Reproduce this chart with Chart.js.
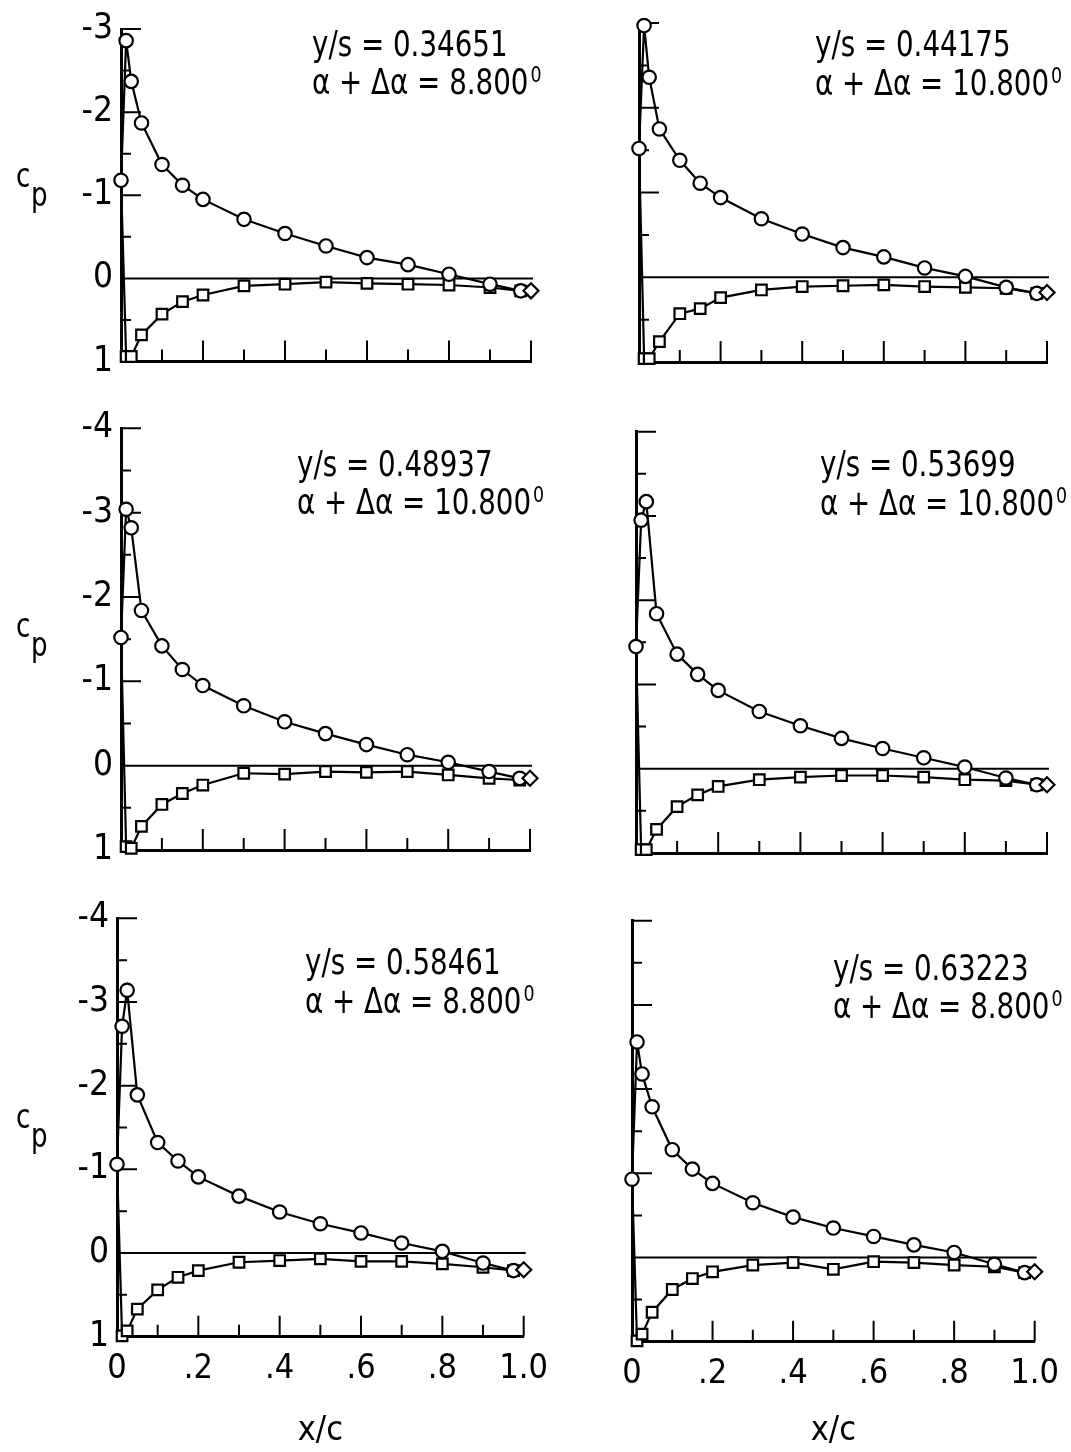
<!DOCTYPE html>
<html>
<head>
<meta charset="utf-8">
<title>Chordwise pressure distributions</title>
<script src="https://cdn.jsdelivr.net/npm/chart.js@4.4.1/dist/chart.umd.min.js"></script>
<style>
  html, body { margin: 0; padding: 0; background: #fff; }
  #page { position: relative; width: 1071px; height: 1452px; overflow: hidden; background: #fff; }
  #page canvas { position: absolute; }
</style>
</head>
<body>
<div id="page"></div>
<script>
// Estaciones x/c (superficie superior e inferior) y borde de salida
const stationsX = [0, 0.0125, 0.025, 0.05, 0.1, 0.15, 0.2, 0.3, 0.4, 0.5, 0.6, 0.7, 0.8, 0.9, 0.975];
const trailingEdgeX = 1.0;

// Etiquetas de cada panel
const spanStations = ['0.34651', '0.44175', '0.48937', '0.53699', '0.58461', '0.63223'];
const angles = ['8.800', '10.800', '10.800', '10.800', '8.800', '8.800'];

// Eje c_p (invertido): valor superior de cada panel
const yTopValues = [-3, -3, -4, -4, -4, -4];
const xTickLabels = ['0', '.2', '.4', '.6', '.8', '1.0'];

// c_p superficie superior (circulos), una por estacion
const upper1 = [-1.18, -2.86, -2.37, -1.87, -1.37, -1.12, -0.95, -0.71, -0.54, -0.39, -0.25, -0.165, -0.05, 0.07, 0.15];
const upper2 = [-1.52, -2.97, -2.36, -1.75, -1.38, -1.11, -0.94, -0.69, -0.51, -0.35, -0.24, -0.11, -0.01, 0.12, 0.19];
const upper3 = [-1.52, -3.04, -2.82, -1.84, -1.42, -1.14, -0.95, -0.71, -0.52, -0.38, -0.25, -0.13, -0.04, 0.07, 0.15];
const upper4 = [-1.45, -2.95, -3.17, -1.84, -1.36, -1.12, -0.93, -0.68, -0.51, -0.36, -0.24, -0.13, -0.02, 0.11, 0.19];
const upper5 = [-1.06, -2.71, -3.14, -1.89, -1.32, -1.10, -0.91, -0.68, -0.49, -0.35, -0.24, -0.12, -0.02, 0.12, 0.21];
const upper6 = [-0.93, -2.56, -2.18, -1.79, -1.28, -1.05, -0.88, -0.65, -0.48, -0.35, -0.25, -0.15, -0.06, 0.08, 0.18];

// c_p superficie inferior (cuadrados), desde x/c = 0.0125
const lower1 = [0.94, 0.94, 0.68, 0.43, 0.28, 0.20, 0.09, 0.07, 0.045, 0.06, 0.07, 0.08, 0.11, 0.15];
const lower2 = [0.96, 0.96, 0.76, 0.43, 0.37, 0.24, 0.15, 0.11, 0.10, 0.09, 0.11, 0.12, 0.13, 0.19];
const lower3 = [0.96, 0.98, 0.72, 0.46, 0.33, 0.23, 0.09, 0.10, 0.07, 0.08, 0.07, 0.11, 0.15, 0.17];
const lower4 = [0.96, 0.96, 0.72, 0.45, 0.31, 0.21, 0.13, 0.10, 0.08, 0.08, 0.10, 0.13, 0.14, 0.19];
const lower5 = [0.99, 0.93, 0.67, 0.44, 0.29, 0.21, 0.11, 0.09, 0.07, 0.10, 0.10, 0.13, 0.17, 0.21];
const lower6 = [0.99, 0.91, 0.65, 0.38, 0.25, 0.17, 0.09, 0.06, 0.14, 0.05, 0.06, 0.09, 0.11, 0.18];

// c_p en el borde de salida (rombo)
const trailingEdge = [0.15, 0.18, 0.15, 0.19, 0.20, 0.17];

const upperSets = [upper1, upper2, upper3, upper4, upper5, upper6];
const lowerSets = [lower1, lower2, lower3, lower4, lower5, lower6];

// Posicion de cada area de grafica en la pagina (px)
const panelRects = [
    { left: 121, right: 531, top: 22.7, bottom: 361.5 },
    { left: 639, right: 1047, top: 23, bottom: 362 },
    { left: 121, right: 530, top: 428.3, bottom: 850 },
    { left: 636, right: 1047, top: 431.7, bottom: 853 },
    { left: 117, right: 526, top: 918.3, bottom: 1336.7 },
    { left: 632, right: 1044, top: 920.7, bottom: 1341.7 }
];
const colX = [0, 560], colW = [560, 511];
const rowY = [0, 395, 885], rowH = [395, 490, 567];

// Posicion de los textos y/s y alfa
const notePos = [
    { x: 312, y1: 56, y2: 94 },
    { x: 815, y1: 56, y2: 95 },
    { x: 297, y1: 476, y2: 514 },
    { x: 820, y1: 476, y2: 515 },
    { x: 305, y1: 974, y2: 1013 },
    { x: 833, y1: 980, y2: 1018 }
];
const cpLabelY = [187, null, 637, null, 1128, null];

const FONT = "'DejaVu Sans Condensed', 'Liberation Sans Narrow', 'DejaVu Sans', sans-serif";
const NOTE_SQUEEZE = 0.88; // letra alta y estrecha como en el original
Chart.defaults.font.family = FONT;
Chart.defaults.color = '#000';

// Texto estrechado horizontalmente, devuelve el ancho ocupado
function squeezedText(ctx, text, x, y) {
    ctx.save();
    ctx.translate(x, y);
    ctx.scale(NOTE_SQUEEZE, 1);
    ctx.fillText(text, 0, 0);
    const w = ctx.measureText(text).width * NOTE_SQUEEZE;
    ctx.restore();
    return w;
}

// Marcas hacia dentro, linea c_p = 0 y textos
const panelDecor = {
    id: 'panelDecor',
    beforeDatasetsDraw(chart, args, opts) {
        const { ctx, chartArea: a, scales: { x, y } } = chart;
        ctx.save();
        ctx.strokeStyle = '#000';
        ctx.lineWidth = 2;
        ctx.beginPath();
        y.ticks.forEach(t => {
            if (t.value === y.max) return;
            const py = y.getPixelForValue(t.value);
            const len = Number.isInteger(t.value) ? 20 : 10;
            ctx.moveTo(a.left, py);
            ctx.lineTo(a.left + len, py);
        });
        x.ticks.forEach(t => {
            if (t.value === x.min) return;
            const px = x.getPixelForValue(t.value);
            const len = Math.round(t.value * 10) % 2 === 0 ? 21 : 12;
            ctx.moveTo(px, a.bottom);
            ctx.lineTo(px, a.bottom - len);
        });
        const y0 = y.getPixelForValue(0);
        ctx.moveTo(a.left, y0);
        ctx.lineTo(x.getPixelForValue(x.max) + 2, y0);
        ctx.stroke();
        ctx.restore();
    },
    afterDraw(chart, args, opts) {
        const ctx = chart.ctx;
        const i = opts.index;
        const p = notePos[i];
        const nx = p.x - opts.ox;
        ctx.save();
        ctx.fillStyle = '#000';
        ctx.textBaseline = 'alphabetic';
        ctx.textAlign = 'left';
        ctx.font = '35px ' + FONT;
        squeezedText(ctx, 'y/s = ' + spanStations[i], nx, p.y1 - opts.oy);
        const w = squeezedText(ctx, 'α + Δα = ' + angles[i], nx, p.y2 - opts.oy);
        ctx.font = '22px ' + FONT;
        squeezedText(ctx, '0', nx + w + 2, p.y2 - opts.oy - 12);

        if (cpLabelY[i] !== null) {
            const cy = cpLabelY[i] - opts.oy;
            ctx.font = '33px ' + FONT;
            squeezedText(ctx, 'c', 16 - opts.ox, cy);
            squeezedText(ctx, 'p', 31 - opts.ox, cy + 19);
        }
        ctx.restore();
    }
};

function buildPanel(i) {
    const col = i % 2, row = Math.floor(i / 2);
    const ox = colX[col], oy = rowY[row], w = colW[col], h = rowH[row];
    const r = panelRects[i];
    const isLeft = col === 0;
    const isBottom = row === 2;

    const canvas = document.createElement('canvas');
    canvas.width = w;
    canvas.height = h;
    canvas.style.left = ox + 'px';
    canvas.style.top = oy + 'px';
    canvas.style.width = w + 'px';
    canvas.style.height = h + 'px';
    document.getElementById('page').appendChild(canvas);

    const upper = upperSets[i];
    const lower = lowerSets[i];

    const upperPts = stationsX.map((x, k) => ({ x: x, y: upper[k] }));
    upperPts.push({ x: trailingEdgeX, y: trailingEdge[i] });
    const upperStyle = stationsX.map(() => 'circle').concat(['rectRot']);
    const upperRadius = stationsX.map(() => 6.7).concat([7.5]);

    // la superficie inferior parte del punto de remanso (x/c = 0)
    const lowerPts = [{ x: 0, y: upper[0] }].concat(
        stationsX.slice(1).map((x, k) => ({ x: x, y: lower[k] }))
    );
    const lowerRadius = [0].concat(lower.map(() => 7.5));

    new Chart(canvas, {
        type: 'scatter',
        data: {
            datasets: [
                {
                    label: 'Superior',
                    data: upperPts,
                    showLine: true,
                    borderColor: '#000',
                    borderWidth: 2.2,
                    pointStyle: upperStyle,
                    pointRadius: upperRadius,
                    pointBorderWidth: 2.2,
                    pointBorderColor: '#000',
                    pointBackgroundColor: '#fff',
                    clip: false
                },
                {
                    label: 'Inferior',
                    data: lowerPts,
                    showLine: true,
                    borderColor: '#000',
                    borderWidth: 2.2,
                    pointStyle: 'rect',
                    pointRadius: lowerRadius,
                    pointBorderWidth: 2.2,
                    pointBorderColor: '#000',
                    pointBackgroundColor: '#fff',
                    clip: false
                }
            ]
        },
        options: {
            responsive: false,
            animation: false,
            events: [],
            layout: {
                padding: { left: 0, top: r.top - oy, right: ox + w - r.right, bottom: 0 }
            },
            plugins: {
                legend: { display: false },
                tooltip: { enabled: false },
                panelDecor: { index: i, ox: ox, oy: oy }
            },
            scales: {
                x: {
                    type: 'linear',
                    min: 0,
                    max: 1,
                    grid: { drawOnChartArea: false, drawTicks: false },
                    border: { display: true, color: '#000', width: 3 },
                    ticks: {
                        display: isBottom,
                        stepSize: 0.1,
                        autoSkip: false,
                        maxRotation: 0,
                        padding: 12,
                        font: { size: 34 },
                        callback: v => {
                            const k = Math.round(v * 10);
                            return k % 2 === 0 ? xTickLabels[k / 2] : '';
                        }
                    },
                    title: {
                        display: isBottom,
                        text: 'x/c',
                        font: { size: 34 },
                        padding: { top: 0, bottom: 0 }
                    },
                    afterFit: s => { s.height = oy + h - r.bottom; }
                },
                y: {
                    type: 'linear',
                    reverse: true,
                    min: yTopValues[i],
                    max: 1,
                    grid: { drawOnChartArea: false, drawTicks: false },
                    border: { display: true, color: '#000', width: 3 },
                    ticks: {
                        display: isLeft,
                        stepSize: 0.5,
                        autoSkip: false,
                        padding: 8,
                        font: { size: 35 },
                        callback: v => Number.isInteger(v) ? String(v) : ''
                    },
                    afterFit: s => { s.width = r.left - ox; }
                }
            }
        },
        plugins: [panelDecor]
    });
}

for (let i = 0; i < 6; i++) {
    buildPanel(i);
}
</script>
</body>
</html>
